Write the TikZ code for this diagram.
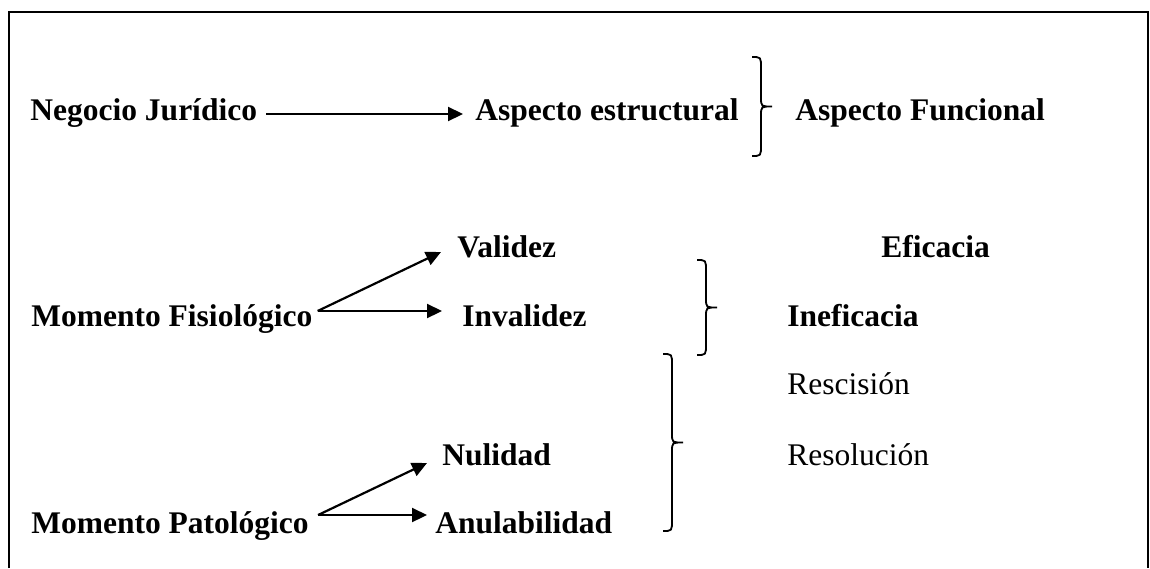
\documentclass[tikz,border=0pt]{standalone}
\usepackage{fontspec}
\setmainfont{Liberation Serif}
\usetikzlibrary{calc,arrows.meta}
\newcommand\DrawBrace[3]{%
  \draw[bracestyle] (#1,#2) .. controls (#1+9,#2) .. (#1+9,#2+11)
    -- (#1+9,{(#2+#3)/2-9}) .. controls (#1+9,{(#2+#3)/2}) .. (#1+20,{(#2+#3)/2})
    .. controls (#1+9,{(#2+#3)/2}) .. (#1+9,{(#2+#3)/2+9})
    -- (#1+9,#3-11) .. controls (#1+9,#3) .. (#1,#3);}
\begin{document}
\begin{tikzpicture}[x=0.5pt,y=-0.5pt,
  lbl/.style={anchor=base west, inner sep=0pt, font=\fontsize{15.75}{19}\selectfont\bfseries},
  plain/.style={anchor=base west, inner sep=0pt, font=\fontsize{15.75}{19}\selectfont},
  arr/.style={-{Triangle[length=7.5pt,width=7pt]}, line width=1.1pt},
  bracestyle/.style={line width=0.9pt},
  frame/.style={line width=1pt}]
\useasboundingbox (0,0) rectangle (1150,568);
\draw[frame] (9,568) -- (9,12) -- (1148,12) -- (1148,568);

\node[lbl] (neg) at (30,120) {Negocio Jurídico};
\node[lbl] (aest) at (475,120) {Aspecto estructural};
\node[lbl] (afun) at (795,120) {Aspecto Funcional};
\node[lbl] (val) at (457,257) {Validez};
\node[lbl] (efi) at (881,257) {Eficacia};
\node[lbl] (mfis) at (31,326) {Momento Fisiológico};
\node[lbl] (inv) at (462,326) {Invalidez};
\node[lbl] (inef) at (787,326) {Ineficacia};
\node[plain] (resc) at (787,394) {Rescisión};
\node[plain] (reso) at (787,465) {Resolución};
\node[lbl] (nul) at (442,465) {Nulidad};
\node[lbl] (mpat) at (31,533) {Momento Patológico};
\node[lbl] (anu) at (435,533) {Anulabilidad};

\draw[arr] ($(neg.base east)+(9,-6)$) -- ($(aest.base west)+(-12,-6)$);
\draw[arr] ($(mfis.base east)+(5,-15)$) -- ($(val.base west)+(-16,-5)$);
\draw[arr] ($(mfis.base east)+(5,-15)$) -- ($(inv.base west)+(-20,-15)$);
\draw[arr] ($(mpat.base east)+(9,-18)$) -- ($(nul.base west)+(-15,-2)$);
\draw[arr] ($(mpat.base east)+(9,-18)$) -- ($(anu.base west)+(-8,-18)$);

\DrawBrace{752}{57}{156}
\DrawBrace{697}{260}{355}
\DrawBrace{663}{354}{531}
\end{tikzpicture}
\end{document}
